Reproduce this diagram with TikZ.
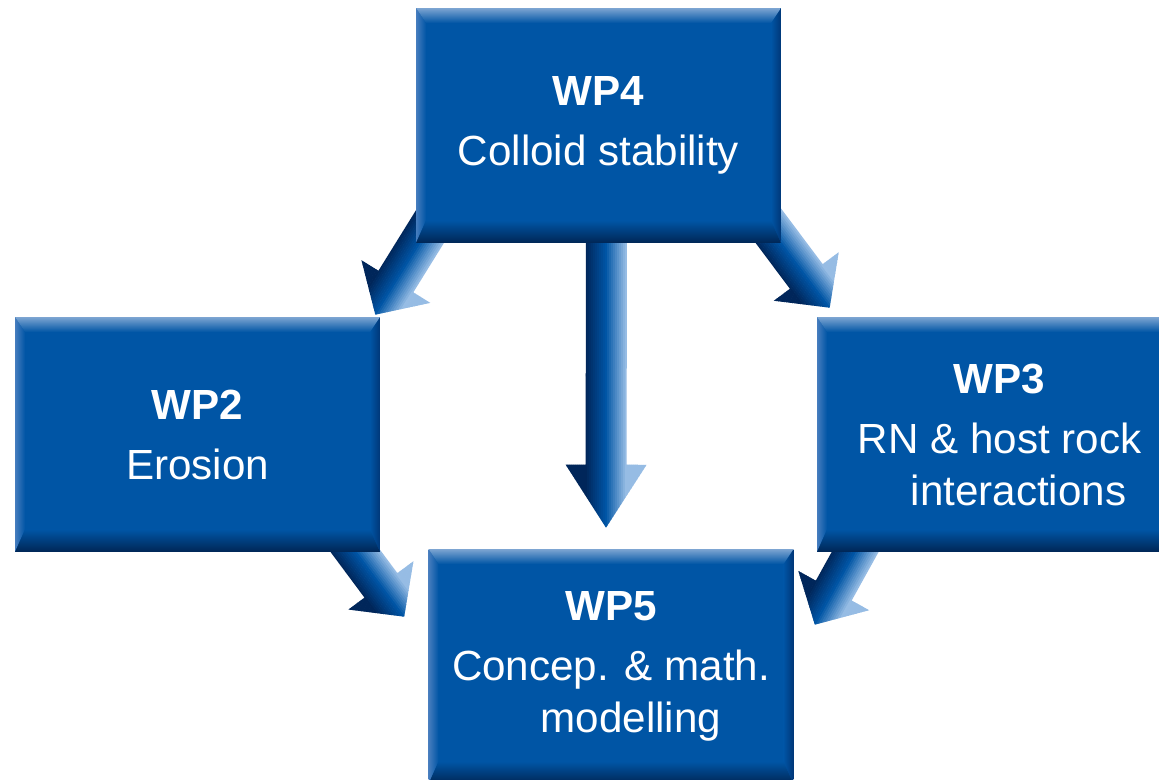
\documentclass[tikz,border=0pt]{standalone}
\usepackage{fontspec}
\setmainfont{Liberation Sans}
\usetikzlibrary{calc,backgrounds}

\definecolor{boxblue}{RGB}{0,85,165}
\definecolor{bevtop}{RGB}{125,165,210}
\definecolor{bevleft}{RGB}{70,125,190}
\definecolor{bevright}{RGB}{0,55,120}
\definecolor{bevbot}{RGB}{0,38,85}
\definecolor{ardark}{RGB}{0,38,90}
\definecolor{arlight}{RGB}{150,188,228}

\tikzset{
  wpbox/.style={rectangle, fill=boxblue, minimum width=7.3cm, minimum height=4.7cm,
    inner sep=0pt, text=white, align=center, font=\fontsize{24}{29.6}\selectfont,
    path picture={
      \path (path picture bounding box.north west) coordinate (bnw)
            (path picture bounding box.north east) coordinate (bne)
            (path picture bounding box.south west) coordinate (bsw)
            (path picture bounding box.south east) coordinate (bse);
      % bevelled edges
      \shade[left color=bevleft, right color=boxblue] (bnw) -- ([shift={(0.2cm,-0.3cm)}]bnw) -- ([shift={(0.2cm,0.45cm)}]bsw) -- (bsw) -- cycle;
      \shade[left color=boxblue, right color=bevright] (bne) -- ([shift={(-0.2cm,-0.3cm)}]bne) -- ([shift={(-0.2cm,0.45cm)}]bse) -- (bse) -- cycle;
      \shade[top color=bevtop, bottom color=boxblue] (bnw) -- (bne) -- ([shift={(-0.2cm,-0.3cm)}]bne) -- ([shift={(0.2cm,-0.3cm)}]bnw) -- cycle;
      \shade[top color=boxblue, bottom color=bevbot] (bsw) -- (bse) -- ([shift={(-0.2cm,0.45cm)}]bse) -- ([shift={(0.2cm,0.45cm)}]bsw) -- cycle;
    }},
}

\begin{document}
\begin{tikzpicture}[x=0.02cm, y=-0.02cm]

    \useasboundingbox (0,0) rectangle (1159,779);

    % Work package boxes
    \node[wpbox] (wp4) at (598.5,125.5) {\textbf{WP4}\\[0.16cm]Colloid stability};
    \node[wpbox] (wp2) at (197.5,434.5) {\textbf{WP2}\\[0.16cm]Erosion};
    \node[wpbox] (wp3) at (999.5,434.5) {\textbf{WP3}\\[0.16cm]RN \& host rock\\\hspace*{0.76cm}interactions};
    \node[wpbox] (wp5) at (611,666.5) {\textbf{WP5}\\[0.16cm]Concep. \& math.\\\hspace*{0.8cm}modelling};

    % Arrow ends (tails hidden under the boxes)
    \coordinate (a45s) at ([shift={(8,-40)}]wp4.south);
    \coordinate (a45t) at ([shift={(-5,-21)}]wp5.north);
    \coordinate (a42s) at ([shift={(38,-55)}]wp4.south west);
    \coordinate (a42t) at ([shift={(-5,-2)}]wp2.north east);
    \coordinate (a43s) at ([shift={(-41,-55)}]wp4.south east);
    \coordinate (a43t) at ([shift={(13,-9)}]wp3.north west);
    \coordinate (a25s) at ([shift={(-47,-31)}]wp2.south east);
    \coordinate (a25t) at ([shift={(-24,68)}]wp5.north west);
    \coordinate (a35s) at ([shift={(56,-32)}]wp3.south west);
    \coordinate (a35t) at ([shift={(21,76)}]wp5.north east);

    % Block arrows, shaded across their width
    \begin{pgfonlayer}{background}
    \foreach \s/\t/\hl in {a45s/a45t/1.26cm, a42s/a42t/0.78cm, a43s/a43t/0.78cm, a25s/a25t/0.78cm, a35s/a35t/0.78cm} {
        \coordinate (hb) at ($(\t)!\hl!(\s)$);
        \coordinate (te) at ($(\s)!1.3!(\t)$);
        \begin{scope}
            \clip ($(\s)!0.41cm!90:(\t)$) -- ($(hb)!0.41cm!90:(\t)$) -- ($(hb)!0.81cm!90:(\t)$) -- (\t)
                -- ($(hb)!0.81cm!-90:(\t)$) -- ($(hb)!0.41cm!-90:(\t)$) -- ($(\s)!0.41cm!-90:(\t)$) -- cycle;
            \foreach \k in {-21,...,21} {
                \pgfmathtruncatemacro\pc{min(100,abs(\k)*10)}
                \pgfmathsetmacro\ang{\k<0 ? -90 : 90}
                \pgfmathsetmacro\dd{abs(\k)*0.04}
                \ifnum\k<0 \colorlet{arcol}{ardark!\pc!boxblue}\else\colorlet{arcol}{arlight!\pc!boxblue}\fi
                \draw[arcol, line width=0.05cm] ($(\s)!\dd cm!\ang:(\t)$) -- ($(te)!\dd cm!-\ang:(\s)$);
            }
        \end{scope}
    }
    \end{pgfonlayer}

\end{tikzpicture}
\end{document}
